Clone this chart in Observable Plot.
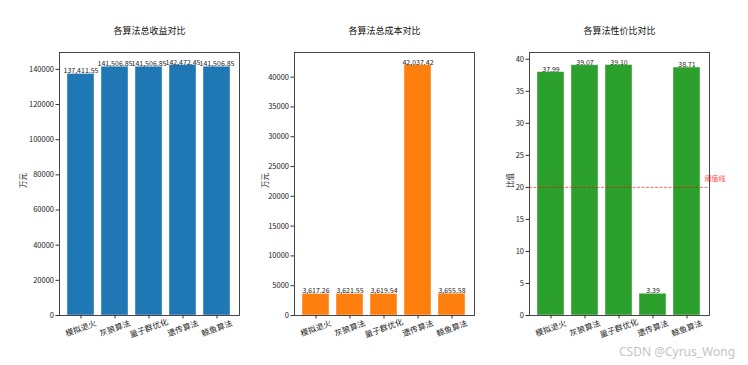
<!DOCTYPE html>
<html>
<head>
<meta charset="utf-8">
<script src="https://cdn.jsdelivr.net/npm/d3@7"></script>
<script src="https://cdn.jsdelivr.net/npm/@observablehq/plot@0.6"></script>
<style>
  html, body { margin: 0; padding: 0; background: #fff; }
  #wrap { position: relative; width: 748px; height: 365px; overflow: hidden; font-family: "Noto Sans CJK SC", sans-serif; }
  .panel { position: absolute; top: 0; }
  #wm { position: absolute; left: 619px; top: 343px; font-family: "Noto Sans", "DejaVu Sans", sans-serif; font-size: 12px; color: #c4c4c4; white-space: nowrap; }
</style>
</head>
<body>
<div id="wrap"><div id="wm">CSDN @Cyrus_Wong</div></div>
<script>
const categories = ["模拟退火", "灰狼算法", "量子群优化", "遗传算法", "鲸鱼算法"];
const revenue = [137411.55, 141506.85, 141506.85, 142472.45, 141506.85];
const cost = [3617.26, 3621.55, 3619.54, 42037.42, 3655.58];
const ratio = [37.99, 39.07, 39.10, 3.39, 38.71];
const revenueTicks = [0, 20000, 40000, 60000, 80000, 100000, 120000, 140000];
const costTicks = [0, 5000, 10000, 15000, 20000, 25000, 30000, 35000, 40000];
const ratioTicks = [0, 5, 10, 15, 20, 25, 30, 35, 40];
const titles = ["各算法总收益对比", "各算法总成本对比", "各算法性价比对比"];
const yLabels = ["万元", "万元", "比值"];
const threshold = 20;
const thresholdLabel = "阈值线";

const FONT = "'Noto Sans CJK SC', 'Noto Sans', sans-serif";
const wrap = document.getElementById("wrap");

function panel(cfg) {
  const data = categories.map((c, i) => ({cat: c, v: cfg.values[i]}));
  const ymax = d3.max(cfg.values) * 1.05;
  const marks = [
    Plot.barY(data, {x: "cat", y: "v", fill: cfg.color, stroke: "#ffffff", strokeOpacity: 0.5, strokeWidth: 0.8}),
    Plot.text(data, {x: "cat", y: "v", text: d => cfg.fmt(d.v), lineAnchor: "bottom", dy: -0.5, fontSize: 7, fill: "#222", letterSpacing: "0.1px"}),
    Plot.axisY({ticks: cfg.ticks, tickSize: 3.5, tickPadding: 2, fontSize: 7.5, label: null, tickFormat: d => String(d), stroke: "#333", fill: "#222"}),
    Plot.axisX({tickSize: 3.5, tickFormat: () => "", label: null, stroke: "#333"}),
    Plot.text(categories, {x: d => d, frameAnchor: "bottom", dy: 13, rotate: -20, textAnchor: "middle", lineAnchor: "middle", fontSize: 8, fill: "#222"}),
    Plot.text([cfg.title], {frameAnchor: "top", dy: -21, fontSize: 9, lineAnchor: "middle", fill: "#111"}),
    Plot.text([cfg.ylabel], {frameAnchor: "left", dx: cfg.ylDx, dy: 4, rotate: -90, fontSize: 7.5, lineAnchor: "middle", fill: "#222"}),
    Plot.frame({stroke: "#333", strokeWidth: 0.9})
  ];
  if (cfg.threshold != null) {
    marks.push(Plot.ruleY([cfg.threshold], {stroke: "red", strokeOpacity: 0.6, strokeDasharray: "3,1.5", strokeWidth: 1}));
    marks.push(Plot.text([{y: cfg.threshold + 1, t: thresholdLabel}], {y: "y", text: "t", frameAnchor: "right", textAnchor: "start", dx: -5, lineAnchor: "bottom", fill: "red", fillOpacity: 0.75, fontSize: 7}));
  }
  const svg = Plot.plot({
    width: cfg.width,
    height: 365,
    marginTop: 52,
    marginBottom: 50,
    marginLeft: cfg.ml,
    marginRight: cfg.mr,
    style: {fontFamily: FONT, fontSize: "7.5px", overflow: "visible", background: "transparent"},
    x: {domain: categories, paddingInner: 0.2, paddingOuter: 0.24, align: 0.5, axis: null},
    y: {domain: [0, ymax], axis: null},
    marks
  });
  svg.classList.add("panel");
  svg.style.left = cfg.left + "px";
  svg.style.position = "absolute";
  svg.style.top = "0px";
  wrap.appendChild(svg);
}

const fmtMoney = d3.format(",.2f");
const fmt2 = d3.format(".2f");

panel({values: revenue, color: "#1f77b4", title: titles[0], ylabel: yLabels[0], ticks: revenueTicks, fmt: fmtMoney, left: 0, width: 250, ml: 59, mr: 11, ylDx: -36});
panel({values: cost, color: "#ff7f0e", title: titles[1], ylabel: yLabels[1], ticks: costTicks, fmt: fmtMoney, left: 250, width: 250, ml: 44, mr: 26, ylDx: -29});
panel({values: ratio, color: "#2ca02c", title: titles[2], ylabel: yLabels[2], ticks: ratioTicks, fmt: fmt2, left: 500, width: 248, ml: 29, mr: 39, ylDx: -19, threshold: threshold});
</script>
</body>
</html>
